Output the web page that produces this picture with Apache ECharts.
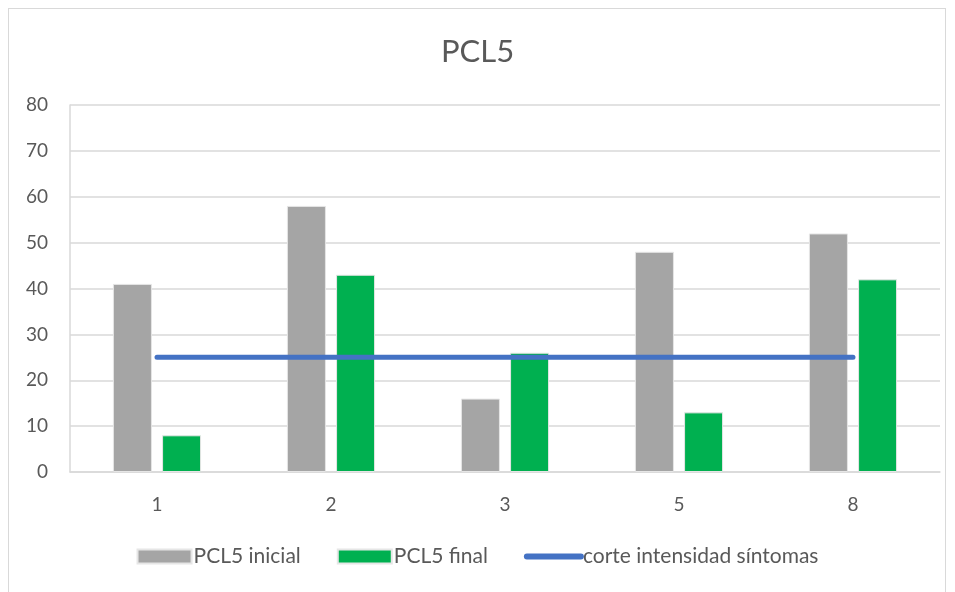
<!DOCTYPE html>
<html>
<head>
<meta charset="utf-8">
<script src="https://cdn.jsdelivr.net/npm/echarts@6/dist/echarts.min.js"></script>
<style>
  html, body { margin: 0; padding: 0; background: #fff; }
  #frame { position: absolute; left: 8px; top: 8px; width: 938px; height: 590px; border: 1px solid #d9d9d9; box-sizing: border-box; }
  #chart { width: 955px; height: 592px; }
</style>
</head>
<body>
<div id="frame"></div>
<div id="chart"></div>
<script>
const categories = ["1", "2", "3", "5", "8"];
const inicial = [41, 58, 16, 48, 52];
const final = [8, 43, 26, 13, 42];
const corte = [25, 25, 25, 25, 25];

const font = "Lato, 'Open Sans', sans-serif";
const chart = echarts.init(document.getElementById("chart"));

chart.setOption({
  animation: false,
  textStyle: { fontFamily: font },
  title: {
    text: "PCL5",
    left: "center",
    top: 31,
    textStyle: { fontFamily: font, fontSize: 31, fontWeight: "normal", color: "#595959" }
  },
  legend: {
    bottom: 20,
    left: "center",
    itemGap: 36,
    itemWidth: 54,
    itemHeight: 14,
    textStyle: { fontFamily: font, fontSize: 21, color: "#595959", padding: [0, 0, 0, -3] },
    data: [
      { name: "PCL5 inicial", icon: "rect" },
      { name: "PCL5 final", icon: "rect" },
      {
        name: "corte intensidad síntomas",
        itemStyle: { opacity: 0 },
        lineStyle: { width: 6, cap: "round", color: "#4472c4" }
      }
    ]
  },
  grid: { left: 70, right: 15, top: 105, bottom: 120 },
  xAxis: {
    type: "category",
    data: categories,
    axisLine: { lineStyle: { color: "#d9d9d9", width: 1.5 } },
    axisTick: { show: false },
    axisLabel: { fontSize: 19, color: "#595959", margin: 23 }
  },
  yAxis: {
    type: "value",
    min: 0,
    max: 80,
    interval: 10,
    axisLine: { show: true, lineStyle: { color: "#d9d9d9", width: 1.5 } },
    axisTick: { show: false },
    splitLine: { lineStyle: { color: "#d9d9d9", width: 1.5 } },
    axisLabel: { fontSize: 19, color: "#595959", margin: 22 }
  },
  series: [
    {
      name: "PCL5 inicial",
      type: "bar",
      data: inicial,
      barWidth: 39,
      barGap: "26%",
      itemStyle: { color: "#a5a5a5", borderColor: "#e6e6e6", borderWidth: 1 }
    },
    {
      name: "PCL5 final",
      type: "bar",
      data: final,
      barWidth: 39,
      itemStyle: { color: "#00b050", borderColor: "#e6e6e6", borderWidth: 1 }
    },
    {
      name: "corte intensidad síntomas",
      type: "line",
      data: corte,
      symbol: "none",
      lineStyle: { color: "#4472c4", width: 5, cap: "round" },
      itemStyle: { color: "#4472c4" }
    }
  ]
});
</script>
</body>
</html>
